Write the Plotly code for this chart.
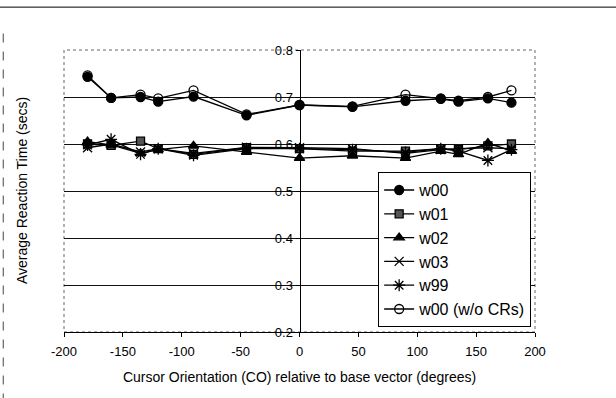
import plotly.graph_objects as go

angles = [-180, -160, -135, -120, -90, -45, 0, 45, 90, 120, 135, 160, 180]
w00 = [0.743, 0.698, 0.700, 0.690, 0.701, 0.661, 0.683, 0.679, 0.692, 0.696, 0.690, 0.697, 0.688]
w01 = [0.600, 0.597, 0.606, 0.590, 0.578, 0.592, 0.590, 0.585, 0.585, 0.590, 0.588, 0.596, 0.600]
w02 = [0.605, 0.598, 0.580, 0.588, 0.596, 0.583, 0.570, 0.575, 0.570, 0.585, 0.578, 0.602, 0.585]
w03 = [0.592, 0.600, 0.583, 0.590, 0.580, 0.593, 0.592, 0.590, 0.580, 0.588, 0.590, 0.592, 0.590]
w99 = [0.598, 0.610, 0.578, 0.590, 0.576, 0.590, 0.590, 0.588, 0.582, 0.590, 0.585, 0.565, 0.588]
w00_nocr = [0.746, 0.698, 0.705, 0.697, 0.714, 0.663, 0.683, 0.680, 0.705, 0.697, 0.692, 0.700, 0.714]

x_tickvals = [-200, -150, -100, -50, 0, 50, 100, 150, 200]
x_ticktext = ["-200", "-150", "-100", "-50", "0", "50", "100", "150", "200"]

names = ["w00", "w01", "w02", "w03", "w99", "w00 (w/o CRs)"]
series = [w00, w01, w02, w03, w99, w00_nocr]
symbols = ["circle", "square", "triangle-up", "x-thin-open", "asterisk-open", "circle-open"]
mcolors = ["black", "#555555", "black", "black", "black", "black"]
sizes = [9, 8, 9, 9, 10, 9]

fig = go.Figure()
for n, s, sym, mc, sz in zip(names, series, symbols, mcolors, sizes):
    fig.add_trace(go.Scatter(
        x=angles, y=s, name=n, mode="lines+markers",
        line=dict(color="black", width=1.3),
        marker=dict(symbol=sym, size=sz, color=mc,
                    line=dict(color="black", width=1.3)),
    ))

font = dict(family="Liberation Sans, Arial, sans-serif", size=13, color="black")
fig.update_layout(
    width=616, height=398,
    margin=dict(l=64, r=81, t=50, b=66),
    paper_bgcolor="white", plot_bgcolor="white",
    font=font,
    showlegend=True,
    legend=dict(x=0.667, y=0.567, xanchor="left", yanchor="top",
                bordercolor="black", borderwidth=1, bgcolor="white",
                font=dict(family="Liberation Sans, Arial, sans-serif", size=16, color="black"),
                tracegroupgap=0, itemwidth=30),
    xaxis=dict(range=[-200, 200], tickvals=x_tickvals, ticktext=x_ticktext, showgrid=False,
               zeroline=False, showline=True, linecolor="black", linewidth=1,
               ticks="outside", ticklen=4, tickcolor="black", ticklabelstandoff=3,
               title=dict(text="Cursor Orientation (CO) relative to base vector (degrees)",
                          font=dict(size=14), standoff=14)),
    yaxis=dict(range=[0.2, 0.8], dtick=0.1, tick0=0.2, tickformat=".1f",
               anchor="free", position=0.5, showline=True, linecolor="black",
               linewidth=1, ticks="outside", ticklen=4, tickcolor="black",
               showgrid=True, gridcolor="#111111", gridwidth=0.8, zeroline=False),
    annotations=[dict(text="Average Reaction Time (secs)", xref="paper", yref="paper",
                      x=-0.089, y=0.5, textangle=-90, showarrow=False,
                      font=dict(size=14), xanchor="center", yanchor="middle")],
    shapes=[
        dict(type="rect", xref="paper", yref="paper", x0=0, x1=1, y0=0, y1=1,
             line=dict(color="#666666", width=1, dash="dot"), layer="below"),
        dict(type="line", xref="paper", yref="paper", x0=-0.14, x1=1.18, y0=1.152, y1=1.152,
             line=dict(color="black", width=1)),
        dict(type="line", xref="paper", yref="paper", x0=-0.129, x1=-0.129, y0=-0.25, y1=1.09,
             line=dict(color="#444444", width=1, dash="dash")),
    ],
)

fig.write_html("out.html", config={"displayModeBar": False},
               post_script="document.body.style.margin='0';")
